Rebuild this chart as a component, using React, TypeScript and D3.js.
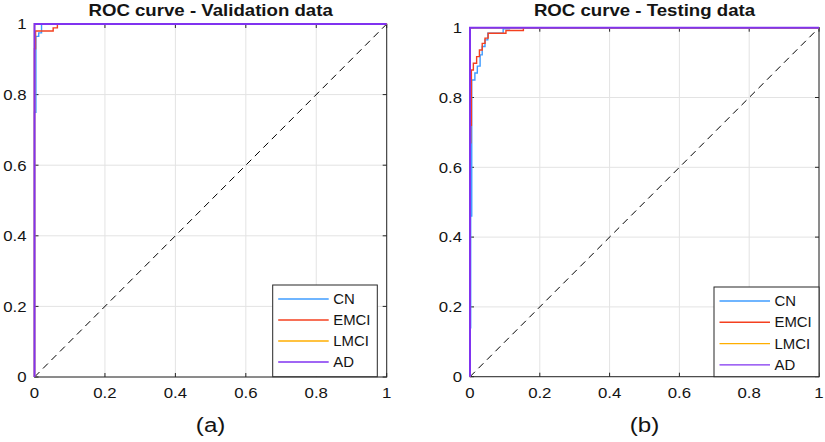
import React from "react";
import * as d3 from "d3";

// ---------- DATA ----------
const classNames = ["CN", "EMCI", "LMCI", "AD"];
const tickValues = [0, 0.2, 0.4, 0.6, 0.8, 1];
const tickLabels = ["0", "0.2", "0.4", "0.6", "0.8", "1"];
const panelTitles = ["ROC curve - Validation data", "ROC curve - Testing data"];
const panelLabels = ["(a)", "(b)"];

// Validation ROC (false positive rate, true positive rate)
const valCN_fpr = [0, 0, 0.004, 0.004, 0.012, 0.012, 0.02, 0.02, 1];
const valCN_tpr = [0, 0.75, 0.75, 0.965, 0.965, 0.975, 0.975, 1, 1];
const valEMCI_fpr = [0, 0, 0.003, 0.003, 0.053, 0.053, 0.065, 0.065, 1];
const valEMCI_tpr = [0, 0.93, 0.93, 0.98, 0.98, 0.989, 0.989, 1, 1];
const valLMCI_fpr = [0, 0, 1];
const valLMCI_tpr = [0, 1, 1];
const valAD_fpr = [0, 0, 1];
const valAD_tpr = [0, 1, 1];

// Testing ROC
const testCN_fpr = [0, 0, 0.002, 0.002, 0.005, 0.005, 0.014, 0.014, 0.021, 0.021, 0.029, 0.029, 0.035, 0.035, 0.043, 0.043, 0.051, 0.051, 0.095, 0.095, 0.113, 0.113, 1];
const testCN_tpr = [0, 0.14, 0.14, 0.46, 0.46, 0.85, 0.85, 0.87, 0.87, 0.89, 0.89, 0.922, 0.922, 0.946, 0.946, 0.965, 0.965, 0.984, 0.984, 0.997, 0.997, 1, 1];
const testEMCI_fpr = [0, 0, 0.002, 0.002, 0.004, 0.004, 0.0096, 0.0096, 0.019, 0.019, 0.027, 0.027, 0.035, 0.035, 0.043, 0.043, 0.052, 0.052, 0.103, 0.103, 0.153, 0.153, 1];
const testEMCI_tpr = [0, 0.67, 0.67, 0.72, 0.72, 0.879, 0.879, 0.898, 0.898, 0.917, 0.917, 0.936, 0.936, 0.955, 0.955, 0.97, 0.97, 0.984, 0.984, 0.992, 0.992, 1, 1];
const testLMCI_fpr = [0, 0, 1];
const testLMCI_tpr = [0, 1, 1];
const testAD_fpr = [0, 0, 1];
const testAD_tpr = [0, 1, 1];

// ---------- STYLE / LAYOUT ----------
const W = 825;
const H = 442;
const colors = ["#3f9cff", "#f4401f", "#ffae00", "#8033f0"];
const widths = [1.4, 1.4, 1.4, 2];
const FONT = "'Liberation Sans', Arial, Helvetica, sans-serif";
const SX = 1.12; // horizontal stretch of the text in the reference

const panels = [
  {
    x0: 34.5, x1: 386.7, y0: 377, y1: 24,
    legend: { x: 272.7, y: 285, w: 104.6, h: 91.7, first: 14, step: 21 },
    series: [
      [valCN_fpr, valCN_tpr],
      [valEMCI_fpr, valEMCI_tpr],
      [valLMCI_fpr, valLMCI_tpr],
      [valAD_fpr, valAD_tpr],
    ],
  },
  {
    x0: 470, x1: 819, y0: 376.7, y1: 27.7,
    legend: { x: 714, y: 287, w: 105, h: 89.7, first: 14, step: 21.3 },
    series: [
      [testCN_fpr, testCN_tpr],
      [testEMCI_fpr, testEMCI_tpr],
      [testLMCI_fpr, testLMCI_tpr],
      [testAD_fpr, testAD_tpr],
    ],
  },
];

function T({ x, y, anchor = "start", size, weight = "normal", children, sx = SX }: any) {
  return (
    <text
      transform={`translate(${x},${y}) scale(${sx},1)`}
      textAnchor={anchor}
      fontFamily={FONT}
      fontSize={size}
      fontWeight={weight}
      fill="#141414"
    >
      {children}
    </text>
  );
}

function Panel({ p, idx }: { p: any; idx: number }) {
  const x = d3.scaleLinear().domain([0, 1]).range([p.x0, p.x1]);
  const y = d3.scaleLinear().domain([0, 1]).range([p.y0, p.y1]);
  const line = d3
    .line<[number, number]>()
    .x((d) => x(d[0]))
    .y((d) => y(d[1]));
  const tickLen = 4;
  const axisColor = "#262626";
  const cx = (p.x0 + p.x1) / 2;
  const lg = p.legend;
  return (
    <g>
      {/* grid */}
      {tickValues.map((t, i) => (
        <g key={"g" + i}>
          <line x1={x(t)} x2={x(t)} y1={y(0)} y2={y(1)} stroke="#e3e3e3" strokeWidth={1} />
          <line x1={x(0)} x2={x(1)} y1={y(t)} y2={y(t)} stroke="#e3e3e3" strokeWidth={1} />
        </g>
      ))}
      {/* box */}
      <rect x={x(0)} y={y(1)} width={x(1) - x(0)} height={y(0) - y(1)} fill="none" stroke={axisColor} strokeWidth={1} />
      {/* ticks */}
      {tickValues.map((t, i) => (
        <g key={"t" + i} stroke={axisColor} strokeWidth={1}>
          <line x1={x(t)} x2={x(t)} y1={y(0)} y2={y(0) - tickLen} />
          <line x1={x(t)} x2={x(t)} y1={y(1)} y2={y(1) + tickLen} />
          <line x1={x(0)} x2={x(0) + tickLen} y1={y(t)} y2={y(t)} />
          <line x1={x(1)} x2={x(1) - tickLen} y1={y(t)} y2={y(t)} />
        </g>
      ))}
      {/* tick labels */}
      {tickValues.map((t, i) => (
        <g key={"l" + i}>
          <T x={x(t)} y={y(0) + 21} anchor="middle" size={15}>{tickLabels[i]}</T>
          <T x={x(0) - 8} y={y(t) + 5.3} anchor="end" size={15}>{tickLabels[i]}</T>
        </g>
      ))}
      {/* diagonal */}
      <line x1={x(0)} y1={y(0)} x2={x(1)} y2={y(1)} stroke="#000" strokeWidth={1} strokeDasharray="7,5" />
      {/* curves */}
      {p.series.map((s: any, i: number) => {
        const pts: [number, number][] = s[0].map((f: number, k: number) => [f, s[1][k]]);
        return (
          <path key={"c" + i} d={line(pts) || ""} fill="none" stroke={colors[i]} strokeWidth={widths[i]} />
        );
      })}
      {/* title */}
      <T x={cx} y={15.5} anchor="middle" size={16.5} weight="bold" sx={1.13}>{panelTitles[idx]}</T>
      {/* sub label */}
      <T x={cx} y={432} anchor="middle" size={21} sx={1.15}>{panelLabels[idx]}</T>
      {/* legend */}
      <rect x={lg.x} y={lg.y} width={lg.w} height={lg.h} fill="#fff" stroke={axisColor} strokeWidth={1} />
      {classNames.map((c, i) => {
        const yy = lg.y + lg.first + i * lg.step;
        return (
          <g key={"lg" + i}>
            <line x1={lg.x + 5.5} x2={lg.x + 56} y1={yy} y2={yy} stroke={colors[i]} strokeWidth={1.4} />
            <T x={lg.x + 60.5} y={yy + 5} size={13.8} sx={1.08}>{c}</T>
          </g>
        );
      })}
    </g>
  );
}

export default function App() {
  return (
    <svg
      width={W}
      height={H}
      viewBox={`0 0 ${W} ${H}`}
      style={{ position: "absolute", left: 0, top: 0, background: "#fff" }}
    >
      <rect x={0} y={0} width={W} height={H} fill="#fff" />
      {panels.map((p, i) => (
        <Panel key={i} p={p} idx={i} />
      ))}
    </svg>
  );
}
